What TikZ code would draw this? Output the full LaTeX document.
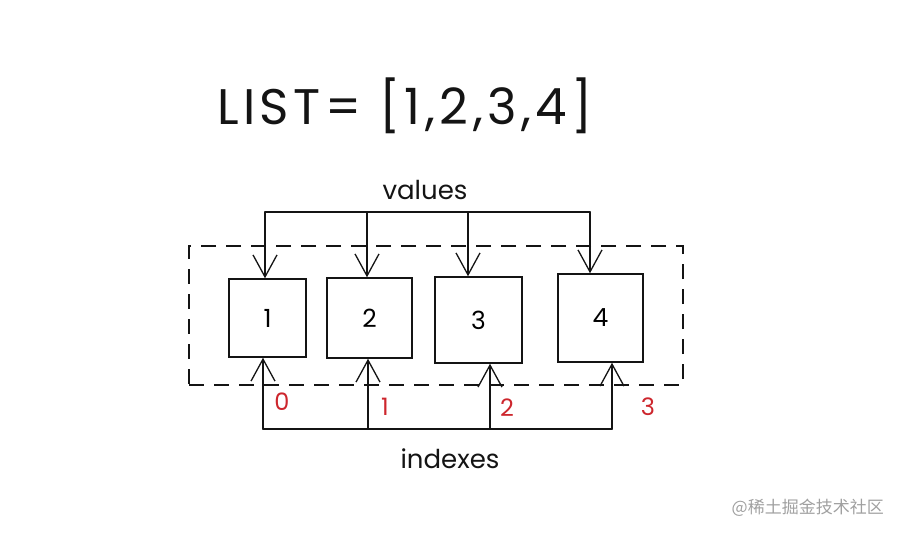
\documentclass[tikz,border=0pt]{standalone}
\usepackage{fontspec}
\setmainfont{Poppins}
\newfontfamily\cjkfont{Noto Sans CJK SC}
\usepackage{tikz}
\usetikzlibrary{arrows.meta, positioning}
\definecolor{inkblack}{RGB}{20, 20, 20}
\definecolor{idxred}{RGB}{205, 38, 45}
\definecolor{markgray}{RGB}{160, 160, 160}
\tikzset{
  cell/.style={draw=inkblack, line width=1.5pt, inner sep=0pt, font=\fontsize{25}{25}\selectfont},
  link/.style={draw=inkblack, line width=1.6pt, line cap=round},
  pointer/.style={link, -{Straight Barb[length=22pt, width=24pt, line width=1.3pt]}},
  idxlabel/.style={text=idxred, font=\fontsize{24}{24}\selectfont},
}

\begin{document}
\begin{tikzpicture}[x=1pt, y=-1pt]
  \useasboundingbox (0, 0) rectangle (903, 536);

  % Title
  \node[font=\fontsize{50}{50}\selectfont\addfontfeatures{LetterSpace=9}, text=inkblack] (title) at (405, 106) {LIST= [1,2,3,4]};

  % Dashed frame round the list
  \node[draw=inkblack, dashed, dash pattern=on 15pt off 10pt, line width=1.5pt, minimum width=494pt, minimum height=139pt] (frame) at (436, 315.5) {};

  % Cells
  \node[cell, minimum width=77pt, minimum height=78pt] (c1) at (267.5, 318) {1};
  \node[cell, minimum width=85pt, minimum height=80pt] (c2) at (369.5, 318) {2};
  \node[cell, minimum width=87pt, minimum height=86pt] (c3) at (478.5, 320) {3};
  \node[cell, minimum width=85pt, minimum height=88pt] (c4) at (600.5, 318) {4};

  % Values
  \node[font=\fontsize{26}{26}\selectfont, text=inkblack] (values) at (425, 190) {values};
  \coordinate (v1) at (265, 212);
  \coordinate (v2) at (367, 212);
  \coordinate (v3) at (468, 212);
  \coordinate (v4) at (590, 212);
  \draw[link] (v1) -- (v4);
  \foreach \i in {1,...,4}
    \draw[pointer] (v\i) -- (v\i |- c\i.north);

  % Indexes
  \node[font=\fontsize{26}{26}\selectfont, text=inkblack] (indexes) at (450, 459) {indexes};
  \coordinate (i1) at (263, 429);
  \coordinate (i2) at (368, 429);
  \coordinate (i3) at (490, 429);
  \coordinate (i4) at (612, 429);
  \draw[link] (i1) -- (i4);
  \foreach \i in {1,...,4}
    \draw[pointer] (i\i) -- (i\i |- c\i.south);

  \node[idxlabel] (n0) at (282, 402) {0};
  \node[idxlabel] (n1) at (385, 407) {1};
  \node[idxlabel] (n2) at (507, 408) {2};
  \node[idxlabel] (n3) at (648, 407) {3};

  % Watermark
  \node[anchor=east, text=markgray, font=\cjkfont\fontsize{17}{17}\selectfont, inner sep=0pt] (mark) at (884, 508) {@稀土掘金技术社区};
\end{tikzpicture}
\end{document}
